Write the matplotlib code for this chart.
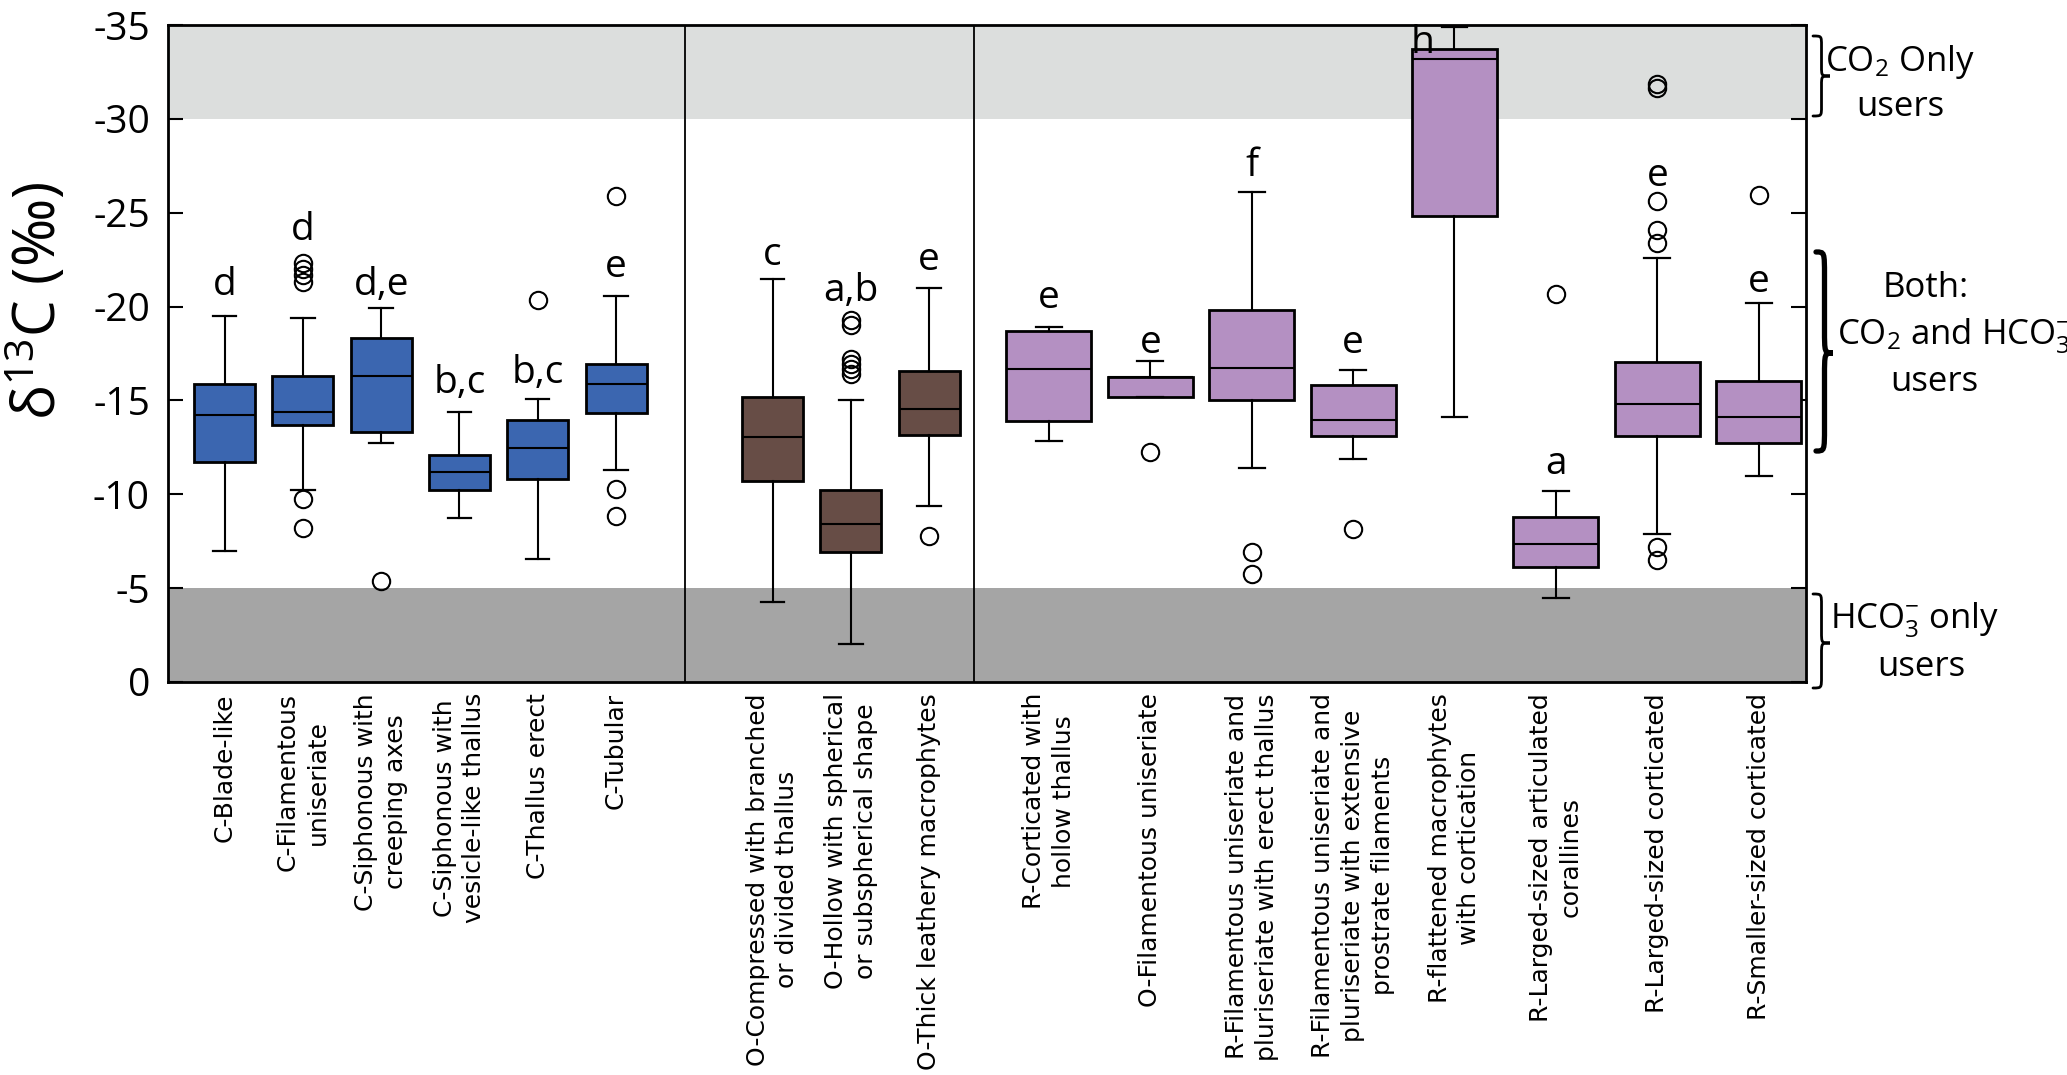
import numpy as np
import matplotlib.pyplot as plt
from matplotlib.path import Path
from matplotlib.patches import PathPatch
from matplotlib.transforms import Affine2D

plt.rcParams['font.family'] = ['Open Sans', 'DejaVu Sans']
plt.rcParams['mathtext.fontset'] = 'custom'
plt.rcParams['mathtext.rm'] = 'Open Sans'
plt.rcParams['mathtext.it'] = 'Open Sans:italic'
plt.rcParams['axes.unicode_minus'] = False

# --- data (delta13C, permil) ---
names = ['C-Blade-like',
         'C-Filamentous\nuniseriate',
         'C-Siphonous with\ncreeping axes',
         'C-Siphonous with\nvesicle-like thallus',
         'C-Thallus erect',
         'C-Tubular',
         'O-Compressed with branched\nor divided thallus',
         'O-Hollow with spherical\nor subspherical shape',
         'O-Thick leathery macrophytes',
         'R-Corticated with\nhollow thallus',
         'O-Filamentous uniseriate',
         'R-Filamentous uniseriate and\npluriseriate with erect thallus',
         'R-Filamentous uniseriate and\npluriseriate with extensive\nprostrate filaments',
         'R-flattened macrophytes\nwith cortication',
         'R-Larged-sized articulated\ncorallines',
         'R-Larged-sized corticated',
         'R-Smaller-sized corticated']
groups = ['C'] * 6 + ['O'] * 3 + ['R'] * 8

whisker_top = [-19.5, -19.4, -19.9, -14.4, -15.1, -20.55, -21.45, -15.0, -21.0,
               -18.9, -17.1, -26.1, -16.6, -34.9, -10.2, -22.6, -20.2]
box_top = [-15.85, -16.3, -18.35, -12.1, -13.95, -16.95, -15.2, -10.25, -16.55,
           -18.7, -16.25, -19.8, -15.8, -33.7, -8.8, -17.05, -16.05]
median = [-14.2, -14.4, -16.3, -11.2, -12.45, -15.85, -13.05, -8.4, -14.55,
          -16.65, -16.25, -16.75, -13.95, -33.2, -7.35, -14.8, -14.1]
box_bottom = [-11.7, -13.7, -13.3, -10.25, -10.8, -14.35, -10.7, -6.9, -13.15,
              -13.9, -15.2, -15.0, -13.1, -24.8, -6.1, -13.1, -12.75]
whisker_bottom = [-7.0, -10.25, -12.75, -8.75, -6.55, -11.3, -4.25, -2.0, -9.4,
                  -12.85, -15.2, -11.4, -11.9, -14.1, -4.45, -7.9, -10.95]
outliers = [[],
            [-22.3, -22.0, -21.7, -21.3, -9.75, -8.2],
            [-5.4],
            [],
            [-20.35],
            [-25.9, -10.3, -8.85],
            [],
            [-19.3, -19.0, -17.2, -16.95, -16.7, -16.4],
            [-7.8],
            [],
            [-12.25],
            [-6.9, -5.75],
            [-8.15],
            [],
            [-20.65],
            [-31.85, -31.65, -25.65, -24.1, -23.4, -7.2, -6.5],
            [-25.95]]
letters = ['d', 'd', 'd,e', 'b,c', 'b,c', 'e', 'c', 'a,b', 'e',
           'e', 'e', 'f', 'e', 'h', 'a', 'e', 'e']
letter_y = [-20.6, -23.55, -20.6, -15.4, -15.95, -21.6, -22.2, -20.3, -21.95,
            -19.95, -17.55, -26.95, -17.55, -33.5, -11.1, -26.4, -20.75]

colors = {'C': '#3b66b0', 'O': '#674d46', 'R': '#b490c2'}

# --- layout ---
W, H = 2067, 1075
fig = plt.figure(figsize=(W / 100, H / 100), dpi=100)
ax = fig.add_axes([168 / W, 1 - 682 / H, (1806 - 168) / W, (682 - 25) / H])

pos = []
for i, g in enumerate(groups):
    if g == 'C':
        pos.append(i)
    elif g == 'O':
        pos.append(i + 1)
    else:
        pos.append(10.53 + 1.295 * (i - 9))
widths = [0.78 if g != 'R' else 1.085 for g in groups]
capw = [0.3 if g != 'R' else 0.33 for g in groups]

stats = []
for i in range(len(names)):
    stats.append(dict(label=names[i], whislo=whisker_bottom[i], q1=box_bottom[i],
                      med=median[i], q3=box_top[i], whishi=whisker_top[i],
                      fliers=outliers[i]))

ax.axhspan(-30, -35, color='#dcdedd', zorder=0, lw=0)
ax.axhspan(0, -5, color='#a5a5a5', zorder=0, lw=0)

bp = ax.bxp(stats, positions=pos, widths=widths, capwidths=capw, patch_artist=True,
            manage_ticks=False,
            boxprops=dict(edgecolor='black', linewidth=2.0),
            whiskerprops=dict(color='black', linewidth=1.5),
            capprops=dict(color='black', linewidth=1.6),
            medianprops=dict(color='black', linewidth=1.5),
            flierprops=dict(marker='o', markerfacecolor='none', markeredgecolor='black',
                            markersize=12.5, markeredgewidth=1.5))
for patch, g in zip(bp['boxes'], groups):
    patch.set_facecolor(colors[g])

shift = {13: -0.41}
for i, t in enumerate(letters):
    ax.text(pos[i] + shift.get(i, 0), letter_y[i], t, ha='center', va='baseline',
            fontsize=28, zorder=5, clip_on=False)

ax.axvline(5.88, color='black', lw=1.3)
ax.axvline(9.57, color='black', lw=1.3)

ax.set_xlim(-0.723, 20.2)
ax.set_ylim(0, -35)
ax.set_yticks(np.arange(0, -36, -5))
ax.tick_params(axis='y', direction='in', length=11, width=1.5, labelsize=28,
               pad=13, right=True)
ax.set_xticks(pos)
ax.set_xticklabels(names, rotation=90, family='DejaVu Sans', fontsize=18,
                   linespacing=1.3, ma='center', ha='center', va='top')
ax.tick_params(axis='x', length=0, pad=8)
for sp in ax.spines.values():
    sp.set_linewidth(2)

px = Affine2D().scale(1 / W, -1 / H).translate(0, 1) + fig.transFigure

fig.text(38, 301, 'δ$^{13}$C (‰)', transform=px, rotation=90, fontsize=42,
         ha='center', va='center')


def brace(x0, w, yt, yb, ym, lw):
    r = 0.12 * (yb - yt)
    xm = x0 + 0.5 * w
    verts = [(x0, yt), (xm, yt), (xm, yt), (xm, yt + r),
             (xm, ym - r),
             (xm, ym), (xm, ym), (x0 + w, ym),
             (xm, ym), (xm, ym), (xm, ym + r),
             (xm, yb - r),
             (xm, yb), (xm, yb), (x0, yb)]
    codes = [Path.MOVETO, Path.CURVE4, Path.CURVE4, Path.CURVE4,
             Path.LINETO,
             Path.CURVE4, Path.CURVE4, Path.CURVE4,
             Path.CURVE4, Path.CURVE4, Path.CURVE4,
             Path.LINETO,
             Path.CURVE4, Path.CURVE4, Path.CURVE4]
    fig.add_artist(PathPatch(Path(verts, codes), transform=px, fill=False,
                             lw=lw, color='black', capstyle='round'))


brace(1813, 17, 36, 116, 76, 2.0)
brace(1816, 17, 252, 451, 353, 3.8)
brace(1813, 17, 594, 688, 643, 2.0)

fs = 25
fig.text(1900, 71, 'CO$_2$ Only', transform=px, fontsize=fs, ha='center', va='baseline')
fig.text(1900, 116, 'users', transform=px, fontsize=fs, ha='center', va='baseline')
fig.text(1926, 297, 'Both:', transform=px, fontsize=fs, ha='center', va='baseline')
fig.text(1837, 344, 'CO$_2$ and HCO$_3^{-}$', transform=px, fontsize=fs, ha='left',
         va='baseline')
fig.text(1934, 391, 'users', transform=px, fontsize=fs, ha='center', va='baseline')
fig.text(1830, 629, 'HCO$_3^{-}$ only', transform=px, fontsize=fs, ha='left', va='baseline')
fig.text(1921, 676, 'users', transform=px, fontsize=fs, ha='center', va='baseline')

fig.savefig('out.png', dpi=100)
